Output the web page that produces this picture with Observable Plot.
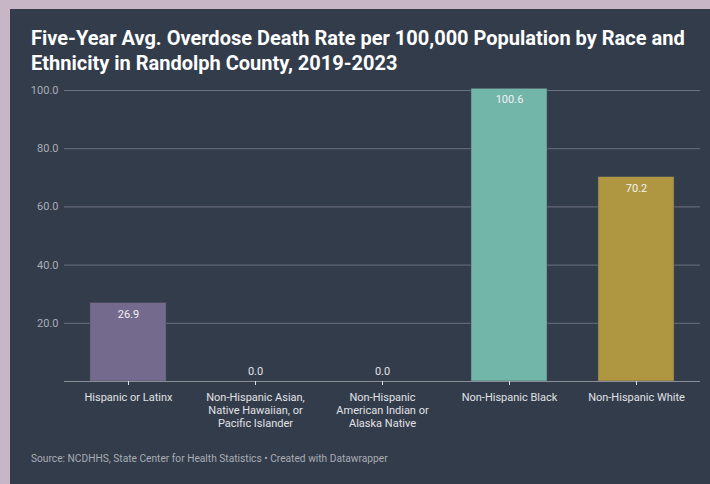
<!DOCTYPE html>
<html>
<head>
<meta charset="utf-8">
<script src="https://cdn.jsdelivr.net/npm/d3@7"></script>
<script src="https://cdn.jsdelivr.net/npm/@observablehq/plot@0.6"></script>
<style>
  html, body { margin: 0; padding: 0; }
  body { width: 710px; height: 484px; background: #c6b6c6; position: relative; overflow: hidden; font-family: Roboto, "Noto Sans", sans-serif; }
  #card { position: absolute; left: 10px; top: 9px; width: 700px; height: 475px; background: #333c4b; }
  #title { position: absolute; left: 31px; top: 26px; width: 675px; color: #ffffff; font-weight: 700; font-size: 20px; line-height: 25px; }
  #chart { position: absolute; left: 0; top: 80px; }
  #caption { position: absolute; left: 31px; top: 453px; color: #a9adb5; font-size: 10.2px; }
</style>
</head>
<body>
<div id="card"></div>
<div id="title">Five-Year Avg. Overdose Death Rate per 100,000 Population by Race and Ethnicity in Randolph County, 2019-2023</div>
<div id="chart"></div>
<div id="caption">Source: NCDHHS, State Center for Health Statistics • Created with Datawrapper</div>
<script>
const categories = [
  "Hispanic or Latinx",
  "Non-Hispanic Asian,\nNative Hawaiian, or\nPacific Islander",
  "Non-Hispanic\nAmerican Indian or\nAlaska Native",
  "Non-Hispanic Black",
  "Non-Hispanic White"
];
const values = [26.9, 0.0, 0.0, 100.6, 70.2];
const colors = ["#736a8e", "#736a8e", "#736a8e", "#72b5a9", "#ae9740"];
const yTicks = [20, 40, 60, 80, 100];

const data = categories.map((c, i) => ({category: c, value: values[i], color: colors[i]}));

const chart = Plot.plot({
  width: 710,
  height: 360,
  marginLeft: 64,
  marginRight: 10,
  marginTop: 10,
  marginBottom: 59,
  style: {background: "transparent", fontFamily: "Roboto, sans-serif", fontSize: "11px", overflow: "visible"},
  x: {domain: categories, paddingInner: 0.4, paddingOuter: 0.2, label: null},
  y: {domain: [0, 100], label: null},
  marks: [
    Plot.gridY(yTicks, {stroke: "#6b717d", strokeOpacity: 1, strokeWidth: 1}),
    Plot.axisY(yTicks, {tickSize: 0, tickPadding: 6, tickFormat: d => d.toFixed(1), fill: "#a9adb5", fontSize: 11, label: null}),
    Plot.barY(data, {x: "category", y: "value", fill: "color", stroke: "#4a4f5a", strokeWidth: 0.5}),
    Plot.ruleY([0], {stroke: "#8a8e96", strokeWidth: 1}),
    Plot.axisX({tickSize: 4, tickPadding: 6, stroke: "#dddddd", fill: "#e0e2e6", fontSize: 11, lineHeight: 1.18, label: null}),
    Plot.text(data.filter(d => d.value > 0), {x: "category", y: "value", text: d => d.value.toFixed(1), dy: 11, fill: "#f2f2f2", fontSize: 11}),
    Plot.text(data.filter(d => d.value === 0), {x: "category", y: "value", text: d => d.value.toFixed(1), dy: -10, fill: "#e0e2e6", fontSize: 11})
  ]
});
document.getElementById("chart").appendChild(chart);
</script>
</body>
</html>
